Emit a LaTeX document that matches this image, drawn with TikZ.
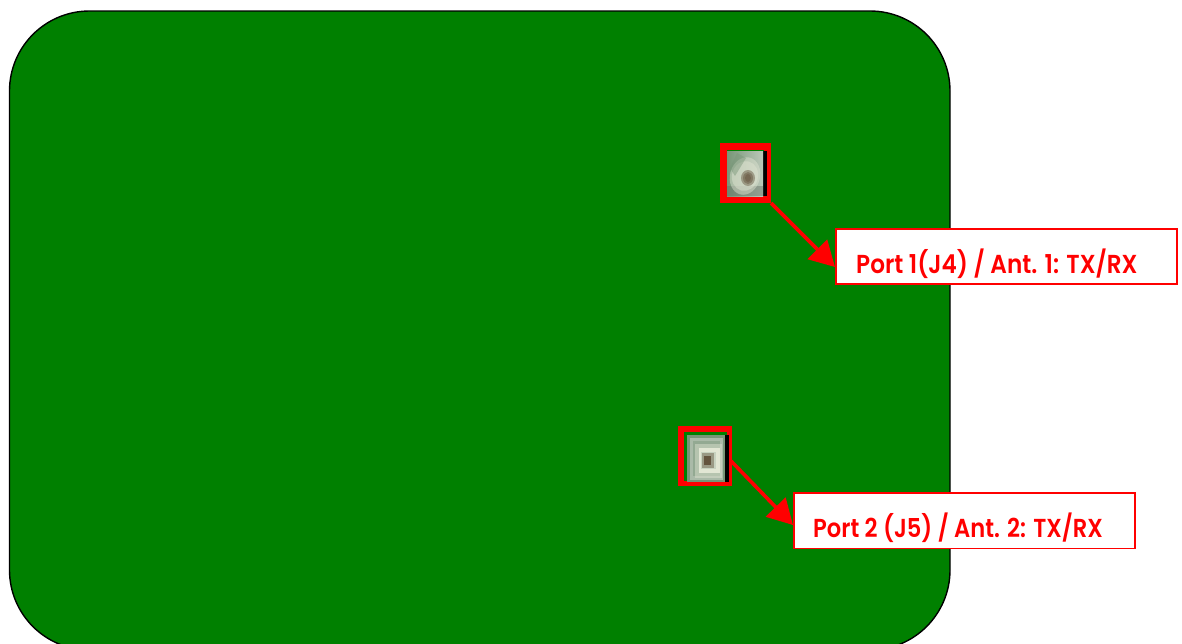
\documentclass[tikz,border=0pt]{standalone}
\usepackage{fontspec}
\setmainfont{Poppins}
\usetikzlibrary{arrows.meta}
\definecolor{board}{RGB}{0,128,0}
\definecolor{redc}{RGB}{255,0,0}
\definecolor{padA}{RGB}{170,186,168}
\definecolor{padB}{RGB}{226,230,212}
\definecolor{holeC}{RGB}{100,84,62}
\definecolor{padD}{RGB}{120,150,120}
\tikzset{
  x=1pt,y=-1pt,
  boardshape/.style={draw=black,line width=1.4pt,fill=board,rounded corners=80pt},
  frame/.style={draw=redc,inner sep=0pt},
  soft/.style={opacity=0.45},
  labelbox/.style={draw=redc,line width=1.8pt,fill=white,inner sep=0pt,anchor=north west},
  labeltext/.style={text=redc,font=\fontsize{26}{28}\selectfont\fontspec{Poppins SemiBold},inner sep=0pt,anchor=base west},
  pointer/.style={draw=redc,line width=3.6pt,-{Triangle[length=25pt,width=27pt,fill=redc]},shorten >=0pt},
}
\begin{document}
\begin{tikzpicture}
\useasboundingbox (0,0) rectangle (1182,643);
\begin{scope}
\clip (0,0) rectangle (1182,643);
\draw[boardshape] (9.5,11) rectangle (950,650);
\end{scope}

% frames
\node[frame,line width=7pt,minimum width=44pt,minimum height=53pt] (port1) at (745.5,173) {};
\node[frame,line width=5.5pt,minimum width=48.5pt,minimum height=54.5pt] (port2) at (705,456) {};

% connector 1 photo
\fill[black] (763,151) rectangle (767,196);
\shade[left color=padD,right color=padA!80!white] (727,151) rectangle (763,196);
\fill[padA!60!black,soft] (727,186) rectangle (763,196);
\fill[padB,soft,rotate around={-15:(745,176)}] (745,176) ellipse (15pt and 19pt);
\fill[padB,soft,rotate around={-15:(745,176)}] (745,176) ellipse (13pt and 15pt);
\fill[padD,soft] (737,153) -- (746,158) -- (735,176) -- (730,168) -- cycle;
\fill[holeC,soft] (748,178) ellipse (7pt and 8pt);
\fill[holeC,soft] (748,178) ellipse (5pt and 6pt);
\fill[holeC,soft] (748,178) ellipse (3pt and 4pt);

% connector 2 photo
\fill[black] (725,435) rectangle (729,482);
\fill[padD] (687,435) rectangle (725,482);
\fill[padA] (690,438) rectangle (723,480);
\fill[padD,soft] (693,441) rectangle (720,476);
\fill[padB,soft] (695,444) rectangle (722,478);
\fill[padB] (699,448) rectangle (720,473);
\fill[padA,soft] (701,452) rectangle (716,469);
\fill[holeC,soft] (702,453) rectangle (714,468);
\fill[holeC] (704,456) rectangle (711,465);

% labels
\node[labelbox,minimum width=341pt,minimum height=55.5pt] (box1) at (835,227.8) {};
\node[labelbox,minimum width=341pt,minimum height=55.5pt] (box2) at (792.8,492) {};
\node[labeltext] (text1) at (856,273) {\scalebox{0.89}[1]{Port 1(J4) / Ant. 1: TX/RX}};
\node[labeltext] (text2) at (813,537) {\scalebox{0.87}[1]{Port 2 (J5) / Ant. 2: TX/RX}};

% connectors
\coordinate (tip1) at (835,267);
\coordinate (tip2) at (793,525);
\coordinate (from2) at (731,461);
\draw[pointer] (port1.south east) -- (tip1);
\draw[pointer] (from2) -- (tip2);
\end{tikzpicture}
\end{document}
